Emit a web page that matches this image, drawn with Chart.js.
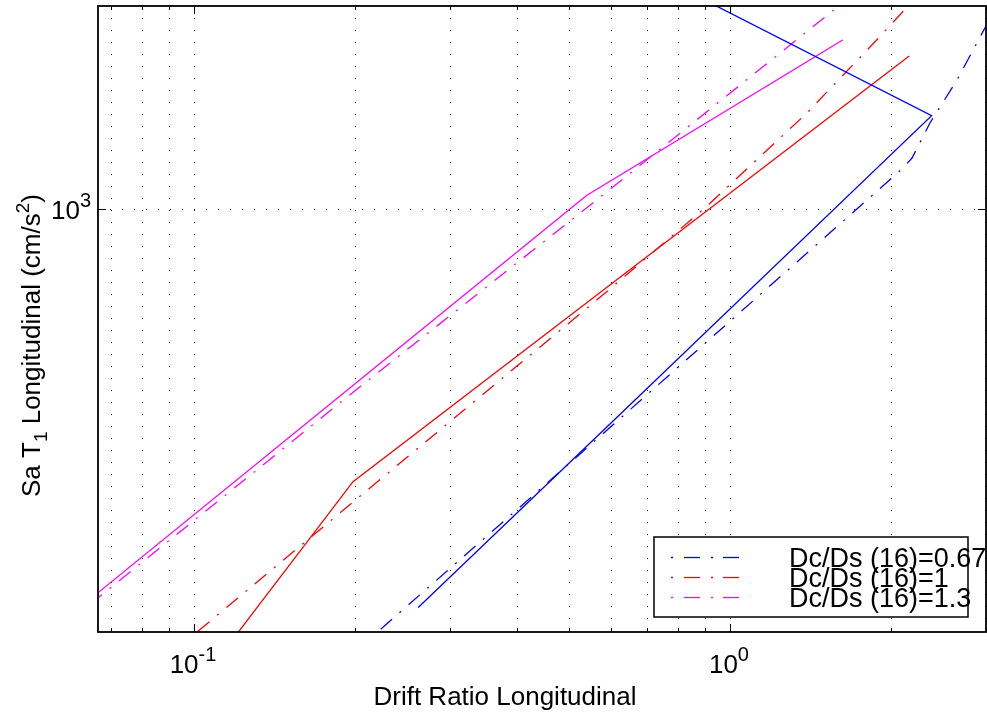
<!DOCTYPE html>
<html>
<head>
<meta charset="utf-8">
<script src="https://cdn.jsdelivr.net/npm/chart.js@4"></script>
<style>
  html, body { margin: 0; padding: 0; background: #fff; }
  #wrap { width: 987px; height: 713px; }
</style>
</head>
<body>
<div id="wrap"><canvas id="chart" width="987" height="713"></canvas></div>
<script>
// axis ranges and ticks
const xMin = 0.0662, xMax = 3.004;
const yMin = 162, yMax = 2400;
const xGrid = [0.07, 0.08, 0.09, 0.1, 0.2, 0.3, 0.4, 0.5, 0.6, 0.7, 0.8, 0.9, 1, 2, 3];
const xMajor = [0.1, 1];
const xMajorExp = ['-1', '0'];
const yGrid = [1000];
const yMajorExp = ['3'];

// Dc/Ds (16)=0.67 (blue)
const blueSolidDrift = [0.262, 0.665, 2.378, 0.879];
const blueSolidSa = [180, 440, 1496, 2488];
const blueDashDrift = [0.223, 0.400, 1.491, 2.091, 2.186, 2.361, 2.652, 2.990, 3.19];
const blueDashSa = [164, 274, 880, 1188, 1247, 1450, 1745, 2183, 2463];

// Dc/Ds (16)=1 (red)
const redSolidDrift = [0.1118, 0.198, 0.597, 2.160];
const redSolidSa = [146, 309.5, 722, 1935];
const redDashDrift = [0.1017, 0.198, 0.584, 0.898, 1.390, 1.878, 2.262];
const redDashSa = [162.5, 283.5, 696.5, 1006, 1512, 2073, 2538];

// Dc/Ds (16)=1.3 (magenta)
const magSolidDrift = [0.064, 0.204, 0.540, 1.623];
const magSolidSa = [186.6, 480, 1061, 2073];
const magDashDrift = [0.064, 0.204, 0.564, 0.947, 1.675];
const magDashSa = [182.6, 465.8, 1041, 1578, 2495];

const legendLabels = ['Dc/Ds (16)=0.67', 'Dc/Ds (16)=1', 'Dc/Ds (16)=1.3'];

const FONT = "'Liberation Sans', Arial, sans-serif";
const DASHDOT = [15, 10, 2, 10];

function pts(xs, ys) {
  return xs.map((v, i) => ({ x: v, y: ys[i] }));
}

function series(xs, ys, color, dashed, label) {
  return {
    label: label || '',
    data: pts(xs, ys),
    borderColor: color,
    backgroundColor: color,
    borderWidth: 1.3,
    borderDash: dashed ? DASHDOT : [],
    pointRadius: 0,
    tension: 0,
    fill: false,
  };
}

function seg(ctx, x1, y1, x2, y2) {
  ctx.beginPath();
  ctx.moveTo(x1, y1);
  ctx.lineTo(x2, y2);
  ctx.stroke();
}

// draws a run of text pieces, each {t, size, dy}
function rich(ctx, parts, x, y) {
  let cx = x;
  parts.forEach(p => {
    ctx.font = `${p.size}px ${FONT}`;
    ctx.fillText(p.t, cx, y + (p.dy || 0));
    cx += ctx.measureText(p.t).width;
  });
  return cx - x;
}

function richWidth(ctx, parts) {
  let w = 0;
  parts.forEach(p => {
    ctx.font = `${p.size}px ${FONT}`;
    w += ctx.measureText(p.t).width;
  });
  return w;
}

const frame = {
  id: 'frame',
  beforeDatasetsDraw(chart) {
    const { ctx, chartArea: a, scales: { x, y } } = chart;
    ctx.save();
    ctx.strokeStyle = '#000';
    ctx.lineWidth = 1;
    ctx.setLineDash([1, 11]);
    xGrid.forEach(v => {
      const px = Math.round(x.getPixelForValue(v)) + 0.5;
      seg(ctx, px, a.top, px, a.bottom);
    });
    yGrid.forEach(v => {
      const py = Math.round(y.getPixelForValue(v)) + 0.5;
      seg(ctx, a.left, py, a.right, py);
    });
    ctx.restore();
  },
  afterDatasetsDraw(chart) {
    const { ctx, chartArea: a, scales: { x, y } } = chart;
    ctx.save();
    ctx.strokeStyle = '#000';
    ctx.fillStyle = '#000';
    ctx.setLineDash([]);

    // ticks
    ctx.lineWidth = 1;
    xGrid.forEach(v => {
      const px = Math.round(x.getPixelForValue(v)) + 0.5;
      const len = xMajor.includes(v) ? 8 : 4;
      seg(ctx, px, a.bottom, px, a.bottom - len);
      seg(ctx, px, a.top, px, a.top + len);
    });
    yGrid.forEach(v => {
      const py = Math.round(y.getPixelForValue(v)) + 0.5;
      seg(ctx, a.left, py, a.left + 8, py);
      seg(ctx, a.right, py, a.right - 8, py);
    });

    // box
    ctx.lineWidth = 1.8;
    ctx.strokeRect(a.left, a.top, a.right - a.left, a.bottom - a.top);

    // tick labels
    ctx.textAlign = 'left';
    ctx.textBaseline = 'alphabetic';
    xMajor.forEach((v, i) => {
      const parts = [{ t: '10', size: 26 }, { t: xMajorExp[i], size: 20, dy: -12 }];
      const w = richWidth(ctx, parts);
      const px = x.getPixelForValue(v);
      rich(ctx, parts, px - w / 2 - 1, 673);
    });
    yGrid.forEach((v, i) => {
      const parts = [{ t: '10', size: 26 }, { t: yMajorExp[i], size: 20, dy: -12 }];
      const w = richWidth(ctx, parts);
      const py = y.getPixelForValue(v);
      rich(ctx, parts, 91 - w, py + 10);
    });

    // axis titles
    ctx.font = `26px ${FONT}`;
    ctx.textAlign = 'center';
    ctx.fillText('Drift Ratio Longitudinal', 505, 705);

    ctx.save();
    ctx.translate(40, 497);
    ctx.rotate(-Math.PI / 2);
    ctx.textAlign = 'left';
    rich(ctx, [
      { t: 'Sa T', size: 26 },
      { t: '1', size: 19, dy: 7 },
      { t: ' Longitudinal (cm/s', size: 26 },
      { t: '2', size: 19, dy: -11 },
      { t: ')', size: 26 },
    ], 0, 0);
    ctx.restore();

    // legend
    const bx = 654, by = 537, bw = 314, bh = 80;
    ctx.fillStyle = '#fff';
    ctx.fillRect(bx, by, bw, bh);
    ctx.lineWidth = 1.5;
    ctx.strokeRect(bx, by, bw, bh);
    const rows = [557, 577, 597];
    const legendSets = chart.data.datasets.filter(d => d.label);
    legendSets.forEach((d, i) => {
      const ly = rows[i] + 0.5;
      ctx.strokeStyle = d.borderColor;
      ctx.lineWidth = 1.3;
      seg(ctx, 671, ly, 673, ly);
      seg(ctx, 684, ly, 700, ly);
      seg(ctx, 711, ly, 713, ly);
      seg(ctx, 723, ly, 739, ly);
      ctx.fillStyle = '#000';
      ctx.font = `27px ${FONT}`;
      ctx.textAlign = 'left';
      ctx.fillText(d.label, 789, rows[i] + 10);
    });
    ctx.restore();
  }
};

new Chart(document.getElementById('chart'), {
  type: 'line',
  data: {
    datasets: [
      series(blueSolidDrift, blueSolidSa, '#0000ff', false),
      series(blueDashDrift, blueDashSa, '#0000ff', true, legendLabels[0]),
      series(redSolidDrift, redSolidSa, '#ff0000', false),
      series(redDashDrift, redDashSa, '#ff0000', true, legendLabels[1]),
      series(magSolidDrift, magSolidSa, '#ff00ff', false),
      series(magDashDrift, magDashSa, '#ff00ff', true, legendLabels[2]),
    ]
  },
  options: {
    responsive: false,
    animation: false,
    layout: { padding: { left: 98, right: 1, top: 6, bottom: 81 } },
    plugins: { legend: { display: false }, tooltip: { enabled: false }, title: { display: false } },
    scales: {
      x: { type: 'logarithmic', min: xMin, max: xMax, display: false },
      y: { type: 'logarithmic', min: yMin, max: yMax, display: false },
    }
  },
  plugins: [frame]
});
</script>
</body>
</html>
